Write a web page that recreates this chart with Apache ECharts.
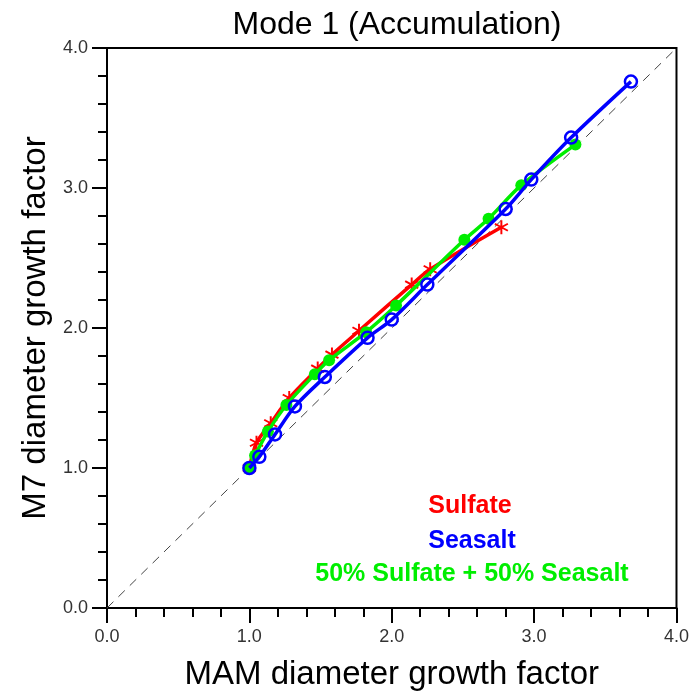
<!DOCTYPE html>
<html>
<head>
<meta charset="utf-8">
<script src="https://cdn.jsdelivr.net/npm/echarts@6/dist/echarts.min.js"></script>
<style>
  html, body { margin: 0; padding: 0; background: #fff; }
  #chart { width: 692px; height: 696px; }
</style>
</head>
<body>
<div id="chart"></div>
<script>
// Diameter growth factors: MAM (x) versus M7 (y), accumulation mode
const sulfateX = [1.00, 1.05, 1.15, 1.28, 1.48, 1.58, 1.77, 2.14, 2.27, 2.77];
const sulfateY = [1.00, 1.18, 1.32, 1.50, 1.71, 1.81, 1.98, 2.31, 2.42, 2.72];

const seasaltX = [1.00, 1.07, 1.18, 1.32, 1.53, 1.83, 2.00, 2.25, 2.80, 2.98, 3.26, 3.68];
const seasaltY = [1.00, 1.08, 1.24, 1.44, 1.65, 1.93, 2.06, 2.31, 2.85, 3.06, 3.36, 3.76];

const mixX = [1.00, 1.04, 1.13, 1.26, 1.46, 1.56, 1.82, 2.03, 2.51, 2.68, 2.91, 3.29];
const mixY = [1.00, 1.09, 1.26, 1.45, 1.67, 1.77, 1.97, 2.16, 2.63, 2.78, 3.02, 3.31];

const oneToOne = [0, 4];
const tickValues = [0.0, 1.0, 2.0, 3.0, 4.0];

const pairs = (xs, ys) => xs.map((x, i) => [x, ys[i]]);

// six-armed asterisk marker built from three bars
const asterisk = 'path://M-1.3,-10L1.3,-10L1.3,10L-1.3,10Z' +
  'M-9.31,-3.874L-8.01,-6.126L9.31,3.874L8.01,6.126Z' +
  'M8.01,-6.126L9.31,-3.874L-8.01,6.126L-9.31,3.874Z';

const FONT = '"Liberation Sans", Arial, Helvetica, sans-serif';

const chart = echarts.init(document.getElementById('chart'), null, { renderer: 'canvas' });

const axisCommon = {
  type: 'value',
  min: tickValues[0],
  max: tickValues[tickValues.length - 1],
  interval: 1,
  splitLine: { show: false },
  axisLine: { show: true, onZero: false, lineStyle: { color: '#000', width: 2 } },
  axisTick: { show: true, inside: false, length: 15, lineStyle: { color: '#000', width: 2 } },
  minorTick: { show: true, splitNumber: 5, length: 9, lineStyle: { color: '#000', width: 2 } },
  axisLabel: {
    color: '#333', fontFamily: FONT, fontSize: 18,
    formatter: v => v.toFixed(1)
  },
  nameTextStyle: { color: '#000', fontFamily: FONT, fontSize: 33 }
};

chart.setOption({
  animation: false,
  backgroundColor: '#fff',
  title: {
    text: 'Mode 1 (Accumulation)',
    left: 392, top: 4, textAlign: 'center',
    textStyle: { color: '#000', fontFamily: FONT, fontSize: 32, fontWeight: 'normal' }
  },
  grid: {
    left: 107, right: 14, top: 48, bottom: 77,
    show: true, borderColor: '#000', borderWidth: 2, backgroundColor: 'transparent'
  },
  xAxis: Object.assign({}, axisCommon, {
    name: 'MAM diameter growth factor',
    nameLocation: 'middle', nameGap: 50,
    axisLabel: Object.assign({}, axisCommon.axisLabel, { margin: 20 })
  }),
  yAxis: Object.assign({}, axisCommon, {
    name: 'M7 diameter growth factor',
    nameLocation: 'middle', nameGap: 53,
    axisLabel: Object.assign({}, axisCommon.axisLabel, { margin: 19 })
  }),
  graphic: [
    { type: 'text', x: 470, y: 506, style: { text: 'Sulfate', fill: '#ff0000', font: 'bold 25px ' + FONT, textAlign: 'center', textVerticalAlign: 'middle' } },
    { type: 'text', x: 472, y: 541, style: { text: 'Seasalt', fill: '#0000ff', font: 'bold 25px ' + FONT, textAlign: 'center', textVerticalAlign: 'middle' } },
    { type: 'text', x: 472, y: 574, style: { text: '50% Sulfate + 50% Seasalt', fill: '#00ee00', font: 'bold 25px ' + FONT, textAlign: 'center', textVerticalAlign: 'middle' } }
  ],
  series: [
    {
      name: '1:1',
      type: 'line',
      data: [[oneToOne[0], oneToOne[0]], [oneToOne[1], oneToOne[1]]],
      symbol: 'none',
      lineStyle: { color: '#444', width: 1, type: [9, 7] },
      silent: true, z: 1
    },
    {
      name: 'Sulfate',
      type: 'line',
      data: pairs(sulfateX, sulfateY),
      smooth: 0.3,
      symbol: asterisk, symbolSize: 14,
      lineStyle: { color: '#ff0000', width: 3.5 },
      itemStyle: { color: '#ff0000' },
      z: 2
    },
    {
      name: '50% Sulfate + 50% Seasalt',
      type: 'line',
      data: pairs(mixX, mixY),
      smooth: 0.3,
      symbol: 'circle', symbolSize: 12,
      lineStyle: { color: '#00ee00', width: 3.5 },
      itemStyle: { color: '#00ee00' },
      z: 3
    },
    {
      name: 'Seasalt',
      type: 'line',
      data: pairs(seasaltX, seasaltY),
      smooth: 0.3,
      symbol: 'circle', symbolSize: 12,
      lineStyle: { color: '#0000ff', width: 3.5 },
      itemStyle: { color: 'rgba(0,0,0,0)', borderColor: '#0000ff', borderWidth: 2.5 },
      z: 4
    }
  ]
});
</script>
</body>
</html>
